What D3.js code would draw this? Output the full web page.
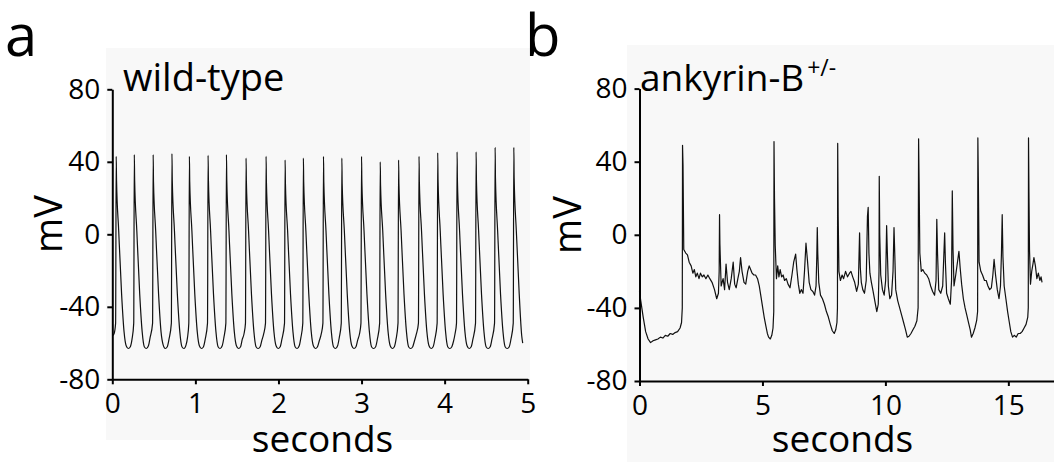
<!DOCTYPE html>
<html>
<head>
<meta charset="utf-8">
<script src="https://cdn.jsdelivr.net/npm/d3@7"></script>
<style>
  html, body { margin: 0; padding: 0; background: #fff; }
  svg { display: block; }
  text { font-family: "Open Sans", "Noto Sans", sans-serif; fill: #000; }
</style>
</head>
<body>
<svg id="chart" width="1054" height="462"></svg>
<script>
// ---------- data ----------
const panelLetters = ["a", "b"];
const panelTitles = ["wild-type", "ankyrin-B"];
const titleSuperscript = "+/-";
const yAxisLabel = "mV";
const xAxisLabel = "seconds";
const yTicks = [-80, -40, 0, 40, 80];
const xTicksA = [0, 1, 2, 3, 4, 5];
const xTicksB = [0, 5, 10, 15];

// wild-type membrane potential trace: [seconds, mV]
const wildTypeTrace = [
  [0,-56],[0.02,-55],[0.04,-49],
  [0.047,43],[0.051,30],[0.077,2],[0.112,-33],[0.142,-54],[0.167,-61.5],[0.192,-63],[0.217,-62],[0.237,-58],[0.258,-49],
  [0.265,44],[0.269,30],[0.295,2],[0.33,-33],[0.36,-54],[0.385,-62],[0.41,-63],[0.435,-61.5],[0.455,-57],[0.485,-49],
  [0.492,44],[0.496,29],[0.522,2],[0.557,-33],[0.587,-54],[0.612,-61],[0.637,-63],[0.662,-62],[0.682,-58],[0.711,-49],
  [0.718,44.5],[0.722,30],[0.748,2],[0.783,-33],[0.813,-54],[0.838,-62],[0.863,-63],[0.888,-61],[0.905,-57],[0.921,-49],
  [0.928,43],[0.932,29],[0.958,2],[0.993,-33],[1.023,-54],[1.048,-61.5],[1.073,-63],[1.098,-62],[1.118,-58],[1.146,-49],
  [1.153,43.5],[1.157,30],[1.183,2],[1.218,-33],[1.248,-54],[1.273,-62],[1.298,-63],[1.323,-61.5],[1.343,-57],[1.367,-49],
  [1.374,44],[1.378,30],[1.404,2],[1.439,-33],[1.469,-54],[1.494,-61.5],[1.519,-63],[1.544,-62],[1.564,-58],[1.585,-55],[1.603,-49],
  [1.61,42],[1.614,29],[1.64,2],[1.675,-33],[1.705,-54],[1.73,-62],[1.755,-63],[1.78,-62],[1.8,-58.5],[1.822,-55],[1.844,-49],
  [1.851,43],[1.855,29],[1.881,2],[1.916,-33],[1.946,-54],[1.971,-61.5],[1.996,-63],[2.021,-62],[2.041,-58],[2.073,-49],
  [2.08,41],[2.084,28],[2.11,2],[2.145,-33],[2.175,-54],[2.2,-62],[2.225,-63],[2.25,-61.5],[2.27,-57],[2.293,-49],
  [2.3,42],[2.304,29],[2.33,2],[2.365,-33],[2.395,-54],[2.42,-61.5],[2.445,-63],[2.47,-62],[2.49,-59],[2.515,-55],[2.535,-49],
  [2.542,43],[2.546,29],[2.572,2],[2.607,-33],[2.637,-54],[2.662,-62],[2.687,-63],[2.712,-61.5],[2.732,-57],[2.756,-49],
  [2.763,42],[2.767,28],[2.793,2],[2.828,-33],[2.858,-54],[2.883,-61.5],[2.908,-63],[2.933,-62],[2.953,-58.5],[2.975,-55],[2.993,-49],
  [3.0,43],[3.004,29],[3.03,2],[3.065,-33],[3.095,-54],[3.12,-62],[3.145,-63],[3.17,-62],[3.19,-58],[3.218,-49],
  [3.225,40],[3.229,27],[3.255,2],[3.29,-33],[3.32,-54],[3.345,-61.5],[3.37,-63],[3.395,-62],[3.415,-58],[3.439,-49],
  [3.446,41],[3.45,28],[3.476,2],[3.511,-33],[3.541,-54],[3.566,-62],[3.591,-63],[3.616,-62],[3.636,-59],[3.66,-55],[3.685,-49],
  [3.692,43],[3.696,29],[3.722,2],[3.757,-33],[3.787,-54],[3.812,-61.5],[3.837,-63],[3.862,-62],[3.882,-58],[3.91,-49],
  [3.917,45],[3.921,30],[3.947,2],[3.982,-33],[4.012,-54],[4.037,-62],[4.062,-63],[4.087,-62],[4.107,-59],[4.125,-55],[4.143,-49],
  [4.15,45.5],[4.154,30],[4.18,2],[4.215,-33],[4.245,-54],[4.27,-61.5],[4.295,-63],[4.32,-62],[4.34,-58],[4.372,-49],
  [4.379,45.5],[4.383,30],[4.409,2],[4.444,-33],[4.474,-54],[4.499,-62],[4.524,-63],[4.549,-62],[4.569,-58],[4.601,-49],
  [4.608,48],[4.612,31],[4.638,2],[4.673,-33],[4.703,-54],[4.728,-62],[4.753,-63],[4.778,-62],[4.798,-58],[4.826,-49],
  [4.833,48],[4.837,31],[4.863,2],[4.898,-33],[4.928,-56],[4.94,-60]
];

// ankyrin-B +/- membrane potential trace: [seconds, mV]
const ankyrinTrace = [
  [0.0,-31],[0.05,-36],[0.15,-45],[0.25,-53],[0.35,-57],[0.45,-59],[0.55,-58],[0.65,-57.5],[0.75,-57],[0.85,-56],[0.95,-56.5],
  [1.05,-55],[1.15,-55.5],[1.25,-54],[1.35,-54.5],[1.45,-53.5],[1.55,-53],[1.65,-51],[1.71,-48],[1.74,-40],
  [1.75,49],[1.77,38],[1.8,-8],[1.88,-10],[1.95,-11],[2.02,-15],[2.1,-17],[2.17,-21],[2.23,-19],[2.29,-23],[2.35,-21],
  [2.42,-24],[2.48,-21],[2.55,-23],[2.62,-22],[2.7,-24],[2.78,-22],[2.86,-24],[2.95,-26],[3.05,-30],[3.14,-35],[3.21,-32],
  [3.24,-20],[3.255,11],[3.27,-5],[3.32,-28],[3.4,-24],[3.46,-30],[3.52,-16],[3.58,-26],[3.65,-30],[3.73,-24],[3.81,-15],
  [3.87,-27],[3.93,-29],[4.0,-24],[4.06,-20],[4.11,-12.5],[4.17,-20],[4.25,-26],[4.32,-27],[4.4,-20],[4.46,-17],[4.52,-19],
  [4.58,-21],[4.65,-22],[4.72,-22],[4.8,-24],[4.87,-28],[4.93,-33],[5.0,-39],[5.07,-45],[5.14,-50],[5.2,-54],[5.25,-56],
  [5.32,-57],[5.38,-55],[5.43,-51],[5.46,-42],[5.47,51],[5.49,20],[5.52,-6],[5.57,-24],[5.62,-17],[5.67,-23],[5.72,-19],
  [5.78,-23],[5.84,-22],[5.9,-25],[5.97,-24],[6.04,-27],[6.12,-29],[6.2,-22],[6.27,-15],[6.35,-10.6],[6.4,-19],[6.46,-27],
  [6.52,-32],[6.58,-30],[6.65,-32],[6.71,-20],[6.77,-4.6],[6.83,-14],[6.9,-26],[6.97,-30],[7.05,-31],[7.12,-33],[7.18,-28],
  [7.21,-12],[7.23,4],[7.25,-10],[7.29,-26],[7.36,-33],[7.44,-35],[7.52,-38],[7.6,-42],[7.68,-45],[7.76,-49],[7.84,-52.5],
  [7.92,-54],[7.98,-52],[8.03,-48],[8.05,-40],[8.06,50],[8.08,10],[8.11,-20],[8.17,-25],[8.24,-22],[8.3,-24],[8.38,-20],
  [8.46,-23],[8.54,-21],[8.6,-20],[8.67,-23],[8.75,-26],[8.83,-31],[8.9,-27],[8.95,1],[8.98,-18],[9.02,-26],[9.08,-30],
  [9.15,-32],[9.22,-25],[9.27,10],[9.3,15],[9.33,-10],[9.37,-21],[9.43,-26],[9.5,-31],[9.58,-37],[9.65,-42],[9.71,-38],
  [9.74,-20],[9.75,32],[9.77,0],[9.81,-22],[9.88,-30],[9.95,-33],[10.01,-25],[10.05,5],[10.08,-10],[10.12,-28],[10.18,-35],
  [10.25,-33],[10.31,-20],[10.35,4],[10.38,-10],[10.42,-30],[10.5,-36],[10.58,-40],[10.66,-44],[10.74,-48],[10.82,-52],
  [10.89,-56],[10.96,-55.5],[11.04,-54],[11.12,-52],[11.2,-50],[11.28,-47],[11.33,-40],[11.35,52.5],[11.37,30],[11.4,-10],
  [11.46,-20],[11.52,-19],[11.6,-21],[11.68,-22],[11.76,-24],[11.84,-28],[11.92,-31],[12.0,-33],[12.06,-25],[12.09,8.5],
  [12.12,-10],[12.17,-30],[12.25,-32],[12.33,-28],[12.41,1],[12.44,-15],[12.49,-32],[12.56,-35],[12.64,-38],[12.69,-25],
  [12.72,24],[12.75,-8],[12.79,-28],[12.86,-22],[12.93,-15],[12.99,-9],[13.04,-18],[13.1,-27],[13.17,-35],[13.24,-40],
  [13.31,-44],[13.38,-48],[13.45,-52],[13.5,-56],[13.57,-54],[13.64,-51],[13.71,-47],[13.75,-42],[13.76,53],[13.78,30],
  [13.81,-15],[13.88,-20],[13.95,-22],[14.03,-25],[14.1,-25],[14.17,-28],[14.24,-30],[14.31,-29],[14.37,-22],[14.42,-13.5],
  [14.48,-22],[14.55,-30],[14.62,-35],[14.68,-28],[14.72,-10],[14.75,11],[14.78,-12],[14.83,-28],[14.9,-35],[14.97,-42],
  [15.04,-48],[15.1,-53],[15.17,-56],[15.24,-55],[15.32,-56],[15.4,-54],[15.48,-54],[15.56,-53],[15.64,-51],[15.72,-49],
  [15.79,-45],[15.81,-40],[15.82,53],[15.84,20],[15.86,-8],[15.9,-27],[15.95,-20],[16.0,-16],[16.04,-12.5],[16.1,-17],
  [16.16,-24],[16.22,-21],[16.28,-25],[16.33,-23],[16.37,-26]
];

// ---------- drawing ----------
const svg = d3.select("#chart");
svg.append("rect").attr("width", 1054).attr("height", 462).attr("fill", "#fff");
svg.append("rect").attr("x", 106).attr("y", 48).attr("width", 424).attr("height", 392).attr("fill", "#f8f8f8");
svg.append("rect").attr("x", 627).attr("y", 45).attr("width", 427).attr("height", 417).attr("fill", "#f8f8f8");

const tickFmt = d => String(d);  // plain hyphen-minus, integers

const panels = [
  { letter: panelLetters[0], title: panelTitles[0], sup: null, trace: wildTypeTrace,
    x: d3.scaleLinear().domain([0, 5]).range([112.3, 527.7]),
    y: d3.scaleLinear().domain([-80, 80]).range([379.3, 89.3]),
    xTicks: xTicksA, curve: d3.curveMonotoneX, xLabelX: 322.5,
    letterPos: [5, 56], titlePos: [123, 91], titleSize: 38, mvX: 62, mvY: 224 },
  { letter: panelLetters[1], title: panelTitles[1], sup: titleSuperscript, trace: ankyrinTrace,
    x: d3.scaleLinear().domain([0, 17]).range([639.5, 639.5 + 17 * 24.59]),
    y: d3.scaleLinear().domain([-80, 80]).range([381, 88.6]),
    xTicks: xTicksB, curve: d3.curveLinear, xLabelX: 842.5,
    letterPos: [525, 56], titlePos: [640, 91], titleSize: 37, mvX: 581, mvY: 225 }
];

panels.forEach(p => {
  const g = svg.append("g");
  const xr = p.x.range(), yr = p.y.range();

  // trace
  const line = d3.line().x(d => p.x(d[0])).y(d => p.y(d[1])).curve(p.curve);
  g.append("path").datum(p.trace)
    .attr("d", line).attr("fill", "none")
    .attr("stroke", "#111").attr("stroke-width", 1.2).attr("stroke-linejoin", "round");

  // axes
  const yAxis = d3.axisLeft(p.y).tickValues(yTicks).tickFormat(tickFmt)
    .tickSize(5).tickSizeOuter(0).tickPadding(7);
  const xAxis = d3.axisBottom(p.x).tickValues(p.xTicks).tickFormat(tickFmt)
    .tickSize(5).tickSizeOuter(0).tickPadding(9);

  const ya = g.append("g").attr("transform", `translate(${xr[0]},0)`).call(yAxis);
  const xa = g.append("g").attr("transform", `translate(0,${yr[0]})`).call(xAxis);
  [ya, xa].forEach(a => {
    a.select(".domain").attr("stroke", "#000").attr("stroke-width", 2);
    a.selectAll(".tick line").attr("stroke", "#000").attr("stroke-width", 2);
    a.selectAll(".tick text").attr("font-family", "Open Sans").attr("font-size", 28).attr("fill", "#000");
  });

  // axis titles
  g.append("text").attr("x", p.xLabelX).attr("y", 452)
    .attr("text-anchor", "middle").attr("font-size", 37).text(xAxisLabel);
  g.append("text").attr("transform", `translate(${p.mvX},${p.mvY}) rotate(-90)`)
    .attr("text-anchor", "middle").attr("font-size", 38).text(yAxisLabel);

  // panel letter
  g.append("text").attr("x", p.letterPos[0]).attr("y", p.letterPos[1])
    .attr("font-size", 58).text(p.letter);

  // title
  const t = g.append("text").attr("x", p.titlePos[0]).attr("y", p.titlePos[1]).attr("font-size", p.titleSize);
  t.append("tspan").text(p.title);
  if (p.sup) t.append("tspan").attr("dx", 3).attr("dy", -15).attr("font-size", 23).text(p.sup);
});
</script>
</body>
</html>
